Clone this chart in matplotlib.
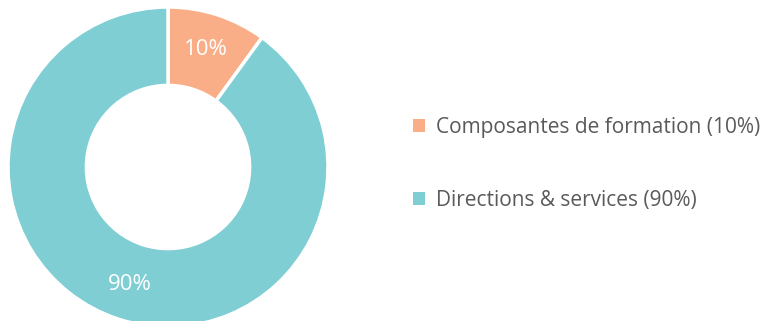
import matplotlib.pyplot as plt

categories = ["Composantes de formation", "Directions & services"]
values = [10, 90]
colors = ["#F9AE87", "#7ECED4"]

plt.rcParams['font.family'] = ['Open Sans', 'DejaVu Sans']

fig = plt.figure(figsize=(7.74, 3.21), dpi=100)
# axe du donut, cale en pixels sur la reference
ax = fig.add_axes([8 / 774, -6 / 321, 320 / 774, 320 / 321])

wedges, texts, autotexts = ax.pie(
    values, colors=colors, startangle=90, counterclock=False,
    wedgeprops=dict(width=0.49, edgecolor="white", linewidth=2.5),
    autopct="%d%%", pctdistance=0.77,
    textprops=dict(color="white", fontsize=16),
)
ax.set_xlim(-1, 1)
ax.set_ylim(-1, 1)

labels = [f"{c} ({v}%)" for c, v in zip(categories, values)]
leg = fig.legend(
    wedges, labels, loc="center left", bbox_to_anchor=(394 / 774, 0.49),
    frameon=False, handlelength=0.6, handleheight=0.6, handletextpad=0.5,
    labelspacing=2.5, fontsize=15, labelcolor="#5A5A5A",
)
for h in leg.legend_handles:
    h.set_edgecolor("none")

fig.savefig("out.png", dpi=100)
